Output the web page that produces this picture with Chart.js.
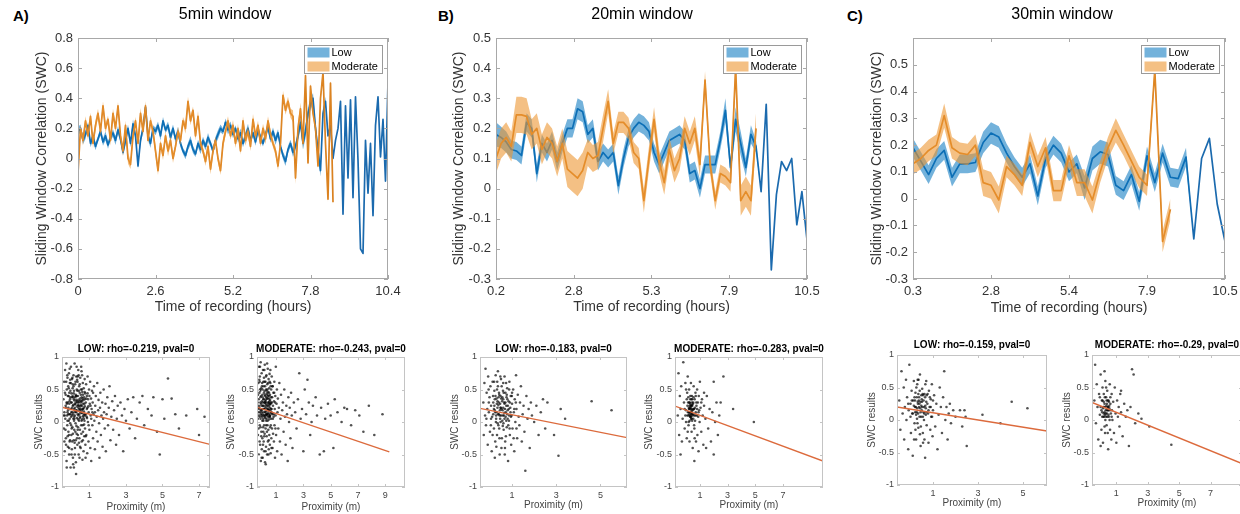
<!DOCTYPE html>
<html>
<head>
<meta charset="utf-8">
<title>Sliding window correlation</title>
<script src="https://cdn.jsdelivr.net/npm/chart.js@4.4.1/dist/chart.umd.min.js"></script>
<style>
  html,body{margin:0;padding:0;background:#fff;}
  body{position:relative;width:1240px;height:514px;overflow:hidden;}
  canvas{position:absolute;}
  .tag{position:absolute;top:8px;font:bold 15px/15px "Liberation Sans",Arial,sans-serif;color:#000;}
</style>
</head>
<body>
<div class="tag" style="left:13px">A)</div>
<div class="tag" style="left:438px">B)</div>
<div class="tag" style="left:847px">C)</div>
<canvas id="mainA" width="450" height="330" style="left:0;top:0"></canvas>
<canvas id="mainB" width="444" height="330" style="left:420px;top:0"></canvas>
<canvas id="mainC" width="444" height="330" style="left:840px;top:0"></canvas>
<canvas id="scALow" width="232" height="180" style="left:20px;top:338px"></canvas>
<canvas id="scAMod" width="232" height="180" style="left:215px;top:338px"></canvas>
<canvas id="scBLow" width="227" height="180" style="left:440px;top:338px"></canvas>
<canvas id="scBMod" width="228" height="180" style="left:635px;top:338px"></canvas>
<canvas id="scCLow" width="230" height="184" style="left:857px;top:334px"></canvas>
<canvas id="scCMod" width="230" height="184" style="left:1052px;top:334px"></canvas>
<script>
const FONT = '"Liberation Sans", Arial, Helvetica, sans-serif';
Chart.defaults.font.family = FONT;
Chart.defaults.animation = false;

const BLUE = '#1b6aae', BLUE_BAND = 'rgba(0,114,189,0.55)';
const ORANGE = '#d9801f', ORANGE_BAND = 'rgba(236,150,50,0.6)';
const FIT = '#dc6a3c';

// ---- sliding window time grids (hours) ----
const aStart = 0,   aStep = 10.4 / 124;
const bStart = 0.2, bStep = 10.3 / 61;
const cStart = 0.3, cStep = 10.2 / 40;

// ---- A) 5min window ----
const aLow = [.18,.2,.12,.16,.22,.1,.15,.08,.13,.18,
  .11,.15,.09,.14,.17,.12,.19,.13,.04,.12,
  .2,.1,.23,.15,-.05,.12,.2,.34,.15,.1,
  .2,.18,.22,.15,.25,.19,.22,.14,.2,.13,
  .18,.1,.05,.02,.08,.12,.06,.03,.1,.06,
  .12,.08,.14,.1,.05,.12,.16,.2,.18,.24,
  .19,.22,.16,.2,.13,.17,.1,.15,.2,.12,
  .17,.11,.19,.14,.1,.16,.21,.13,.18,.12,
  .17,.08,.02,-.02,.06,.1,.04,.08,.15,.24,
  .1,.18,.3,.36,.4,.2,.05,-.08,.3,.38,
  .15,.22,0,.12,.2,.38,-.37,.35,-.13,.39,
  -.26,.41,-.01,-.6,-.63,.12,-.23,.1,-.38,.22,
  .41,.01,.26,-.15,.51];
const aLowErr = [.03,.025,.025,.03,.02,.025,.03,.025,.02,.025,
  .025,.03,.025,.02,.025,.03,.025,.025,.02,.03,
  .025,.025,.03,.025,.02,.025,.03,.025,.025,.03,
  .02,.025,.025,.03,.025,.02,.025,.03,.025,.025,
  .03,.025,.02,.025,.025,.03,.025,.02,.025,.03,
  .025,.025,.03,.02,.025,.025,.03,.025,.02,.025,
  .03,.025,.025,.02,.025,.03,.025,.025,.03,.02,
  .025,.025,.03,.025,.02,.025,.03,.025,.025,.03,
  .025,.02,.025,.03,.025,.025,.03,.025,.04,.04,
  .04,.045,.04,.04,.035,.04,.045,.04,.035,.03,
  0,0,0,0,0,0,0,0,0,0,
  0,0,0,0,0,0,0,0,0,0,
  0,0,0,0,0];
const aMod = [-.1,.2,.12,.25,.15,.28,.1,.22,.3,.18,
  .35,.2,.26,.12,.3,.2,.35,.15,.05,.22,
  0,-.04,.15,.25,.1,.3,.18,.35,.12,.25,
  .18,.05,-.08,.1,.02,.15,.05,.12,0,.08,
  .18,.12,.25,.2,.38,.25,.32,.15,.28,.1,
  .05,-.02,.08,-.07,.05,.12,0,-.08,.1,.18,
  .25,.15,.22,.1,.2,.05,.25,.12,.18,.08,
  .26,.15,.22,.1,.2,.13,.25,.16,.1,.05,
  -.05,.1,.42,.32,.38,.3,.28,-.13,.2,.33,
  .1,.55,-.03,.48,.3,.2,-.05,.4,.57,.1,
  -.27,.5,-.29];
const aModErr = [.03,.025,.035,.03,.03,.025,.03,.035,.03,.03,
  .03,.03,.025,.035,.03,.03,.025,.03,.035,.03,
  .035,.03,.03,.025,.03,.035,.03,.03,.025,.03,
  .03,.035,.03,.025,.03,.03,.035,.03,.03,.025,
  .03,.03,.025,.035,.03,.03,.025,.03,.035,.03,
  .025,.03,.03,.035,.03,.025,.03,.03,.035,.03,
  .03,.025,.035,.03,.03,.025,.03,.035,.03,.03,
  .035,.03,.03,.025,.03,.035,.03,.03,.025,.03,
  .03,.03,.03,.03,.03,.03,.04,.04,.04,.04,
  .04,.02,.02,.02,.02,.02,.02,.02,.02,.02,
  .02,.02,.02];

// ---- B) 20min window ----
const bLow = [.18,.17,.155,.13,.125,.11,.22,.2,.05,.15,
  .12,.16,.09,.15,.2,.2,.265,.255,.18,.2,
  .09,.12,.1,.12,.01,.1,.17,.2,.22,.21,
  .19,.12,.08,.12,.16,.17,.18,.16,.05,.06,
  0,.08,.08,.08,.16,.26,.07,.23,.15,.07,
  .18,.14,-.01,.28,-.27,-.02,.09,.06,.1,-.12,-.01,-.17];
const bLowErr = [.04,.035,.035,.03,.03,.03,.03,.03,.03,.03,
  .03,.03,.03,.03,.03,.03,.035,.035,.03,.03,
  .03,.03,.03,.03,.03,.03,.03,.03,.03,.03,
  .03,.03,.03,.03,.03,.03,.03,.03,.03,.03,
  .03,.03,.03,.03,.03,.04,.03,.04,.04,.03,
  .03,.02,0,0,0,0,0,0,0,0,0,0];
const bMod = [.1,.15,.17,.14,.245,.245,.24,.18,.2,.13,
  .17,.15,.09,.15,.065,.05,.035,.06,.12,.1,
  .11,.2,.29,.15,.22,.22,.2,.12,.1,-.04,
  .1,.23,.09,.02,.13,.06,.1,.2,.15,.2,
  .08,.36,.08,-.04,.05,.04,.02,.4,-.04,-.01,
  -.04,.2];
const bModErr = [.05,.05,.05,.05,.06,.06,.06,.05,.05,.05,
  .05,.05,.05,.05,.06,.06,.06,.06,.045,.045,
  .045,.045,.04,.035,.035,.035,.035,.035,.035,.04,
  .04,.04,.04,.04,.04,.04,.04,.04,.04,.04,
  .04,.03,.03,.03,.03,.03,.03,.03,.05,.05,
  .05,.05];

// ---- C) 30min window ----
const cLow = [.19,.14,.09,.15,.18,.08,.13,.13,.135,.21,
  .245,.23,.17,.12,.08,.13,.01,.15,.2,.17,
  .1,.13,.04,.15,.175,.165,.05,.03,.09,-.01,
  .16,.06,.17,.08,.075,.155,-.15,.15,.225,-.02,
  -.16];
const cLowErr = [.035,.035,.035,.035,.035,.035,.035,.035,.035,.04,
  .04,.04,.035,.035,.035,.035,.035,.035,.035,.035,
  .035,.035,.045,.045,.045,.045,.035,.035,.035,.035,
  .035,.035,.035,.035,.035,.035,0,0,0,0,
  0];
const cMod = [.13,.15,.18,.2,.31,.19,.17,.165,.2,.06,
  .05,-.005,.12,.09,.05,.21,.12,.19,.03,.03,
  .16,.06,.06,-.005,.1,.19,.255,.2,.14,.08,
  .05,.48,-.16,-.04];
const cModErr = [.04,.04,.04,.04,.045,.04,.04,.04,.04,.05,
  .05,.05,.04,.04,.04,.04,.04,.04,.04,.04,
  .04,.05,.05,.05,.04,.04,.045,.04,.04,.04,
  .04,.02,.04,.04];

// ---- axis ticks ----
const aXTicks = [0, 2.6, 5.2, 7.8, 10.4],       aXLabels = ['0','2.6','5.2','7.8','10.4'];
const bXTicks = [0.2, 2.775, 5.35, 7.925, 10.5], bXLabels = ['0.2','2.8','5.3','7.9','10.5'];
const cXTicks = [0.3, 2.85, 5.4, 7.95, 10.5],    cXLabels = ['0.3','2.8','5.4','7.9','10.5'];
const aYTicks = [-0.8,-0.6,-0.4,-0.2,0,0.2,0.4,0.6,0.8];
const bYTicks = [-0.3,-0.2,-0.1,0,0.1,0.2,0.3,0.4,0.5];
const cYTicks = [-0.3,-0.2,-0.1,0,0.1,0.2,0.3,0.4,0.5];
const scYTicks = [-1,-0.5,0,0.5,1];

// ---- proximity scatter (proximity m, SWC) ----
const aLowPts = [[-.42,.35],[-.4,-.1],[-.38,.62],[-.37,.15],[-.35,-.45],[-.33,.8],[-.32,.05],[-.3,.42],[-.29,-.25],[-.28,.22],[-.26,.9],[-.25,-.6],[-.24,.5],[-.22,.1],[-.21,-.05],[-.2,.68],[-.19,.3],[-.18,-.38],[-.17,.18],[-.16,.55],[-.15,-.15],[-.14,.4],[-.13,.02],[-.12,.75],[-.11,-.5],[-.1,.28],[-.09,.12],[-.08,-.3],[-.07,.6],[-.06,.35],[-.05,-.02],[-.04,.48],[-.03,-.7],[-.02,.2],[-.01,.85],[0,.08],[.01,-.2],[.02,.44],[.03,.3],[.04,-.42],[.05,.66],[.06,.15],[.07,-.08],[.08,.52],[.09,.25],[.1,-.55],[.11,.38],[.12,.05],[.13,.72],[.14,-.28],[.15,.2],[.16,.48],[.17,-.12],[.18,.33],[.19,.9],[.2,.1],[.21,-.4],[.22,.58],[.23,.27],[.24,-.02],[.25,.42],[.26,-.62],[.27,.16],[.28,.7],[.29,.34],[.3,-.18],[.31,.5],[.32,.06],[.33,.24],[.34,-.35],[.35,.62],[.36,.12],[.37,.4],[.38,-.08],[.39,.8],[.4,.22],[.41,-.5],[.42,.3],[.43,.02],[.44,.55],[.45,-.25],[.46,.18],[.47,.45],[.48,-.12],[.49,.36],[.5,.68],[.51,.08],[.52,-.4],[.53,.26],[.54,.5],[.55,-.05],[.56,.14],[.57,.78],[.58,-.3],[.59,.32],[.6,.04],[.61,.46],[.62,-.58],[.63,.2],[.64,.6],[.65,-.15],[.66,.28],[.67,.1],[.68,-.45],[.69,.52],[.7,.16],[.71,.38],[.72,-.22],[.73,.02],[.74,.66],[.75,.24],[.76,-.1],[.77,.44],[.78,-.35],[.79,.12],[.8,.3],[.82,.58],[.83,-.2],[.85,.08],[.86,.4],[.88,-.48],[.89,.22],[.9,.7],[.92,0],[.93,.35],[.95,-.3],[.96,.15],[.98,.5],[1,-.12],[1.02,.28],[1.04,.62],[1.05,-.4],[1.07,.1],[1.09,.36],[1.1,-.6],[1.12,.2],[1.14,.48],[1.16,-.05],[1.18,.3],[1.2,-.25],[1.22,.12],[1.25,.55],[1.27,.02],[1.3,-.42],[1.32,.25],[1.35,.4],[1.38,-.15],[1.4,.08],[1.43,.6],[1.45,-.3],[1.48,.18],[1.5,.34],[1.53,-.02],[1.55,-.55],[1.58,.22],[1.6,.45],[1.63,-.2],[1.66,.1],[1.7,.3],[1.72,-.38],[1.75,.05],[1.78,.5],[1.8,.15],[1.84,-.1],[1.88,.28],[1.9,-.45],[1.94,.12],[1.98,.38],[2.02,-.05],[2.06,.22],[2.1,.55],[2.15,-.28],[2.2,.08],[2.25,.32],[2.3,-.12],[2.35,.18],[2.4,.4],[2.46,-.35],[2.5,.05],[2.55,.25],[2.62,-.2],[2.7,.3],[2.78,.1],[2.85,-.45],[2.92,.2],[3,.02],[3.1,.35],[3.2,-.1],[3.3,.15],[3.4,.38],[3.5,-.25],[3.6,.05],[3.75,.3],[3.9,.4],[4,-.05],[4.2,.2],[4.4,.1],[4.5,.38],[4.7,-.15],[4.85,-.5],[5,.35],[5.1,.05],[5.3,.67],[5.5,.36],[5.7,.12],[5.9,-.1],[6.3,.1],[6.9,.2],[7.3,.08],[7,-.2],
  [-.3,.25],[-.2,.15],[-.1,.45],[0,.3],[.05,.22],[.1,.12],[.15,.35],[.2,.28],[.25,.18],[.3,.4],[.35,.3],[.4,.1],[.45,.2],[.5,.15],[.55,.33],[.6,.25],[.65,.42],[.7,.05],[.75,.35],[-.25,.3],[-.15,.22],[-.05,.12],[.08,.4],[.18,.05],[.28,.15],[.38,.26],[.48,.06],[.58,.18],[-.35,.1],[-.12,-.2],[.03,-.1],[.13,.55],[.23,-.15],[.33,.65],[.43,-.32],[.53,.42],[.63,-.05],[.73,.28],[-.28,-.35],[-.18,.4],[-.08,.05],[.22,.38],[.32,-.25],[.42,.48],[.52,.2],[.62,.36],[.72,.12],[.06,-.3],[.16,.02],[.26,.3],[.36,-.12],[.46,.32],[.56,-.18],[.66,.08],[.86,.2],[.96,-.05],[1.06,.25],[1.16,.15],[-.05,.65],[.11,-.65],[.41,.72],[.27,-.8],[.02,-.5],
  [-.34,.45],[-.31,-.12],[-.27,.62],[-.23,.28],[-.19,-.22],[-.16,.12],[-.13,.52],[-.09,.32],[-.06,-.28],[-.02,.6],[.01,.15],[.04,.38],[.07,.68],[.1,-.18],[.12,.26],[.14,.44],[.17,.08],[.19,-.32],[.21,.22],[.24,.62],[.26,.4],[.29,-.06],[.31,.18],[.34,.48],[.37,-.2],[.39,.04],[.41,.34],[.44,.12],[.47,.58],[.49,-.38],[.51,.24],[.54,.3],[.57,.02],[.59,.5],[.61,.14],[.64,-.28],[.67,.34],[.69,.22],[.71,-.04],[.74,.46],[.77,.1],[.8,-.22],[.83,.36],[.87,.06],[.9,.44],[.94,.24],[-.37,-.3],[-.21,.72],[-.11,-.4],[0,-.05],[.09,.58],[.2,-.5],[.36,.7],[.46,-.55],[.6,.72],[.79,-.55],[-.41,.1],[-.08,.82],[.15,-.7],[.55,.85],[.3,.85],[-.24,-.7],[1,.4],[1.1,.05],[1.2,.45],[1.3,.15],[-.05,.38],[.18,.15],[.43,.25],[.66,.2],[.05,.1],[.32,.32],[.58,.38],[-.2,.02],[.25,-.28]];
const aModPts = [[-.35,.3],[-.33,-.2],[-.3,.6],[-.28,.1],[-.27,-.5],[-.25,.85],[-.24,.22],[-.22,.45],[-.2,-.05],[-.19,.7],[-.18,.15],[-.17,-.35],[-.15,.38],[-.14,.05],[-.13,.92],[-.12,-.6],[-.1,.28],[-.09,.52],[-.08,-.15],[-.07,.18],[-.06,.75],[-.05,-.42],[-.04,.32],[-.03,.08],[-.02,.6],[-.01,-.25],[0,.42],[.01,.12],[.02,-.55],[.03,.25],[.04,.8],[.05,-.08],[.06,.35],[.07,.02],[.08,.55],[.09,-.3],[.1,.2],[.11,.68],[.12,-.45],[.13,.3],[.14,.1],[.15,.48],[.16,-.18],[.17,.88],[.18,.24],[.19,-.62],[.2,.4],[.21,.06],[.22,.62],[.23,-.1],[.24,.34],[.25,.16],[.26,-.38],[.27,.5],[.28,.02],[.29,.72],[.3,.26],[.31,-.22],[.32,.44],[.33,.1],[.34,-.5],[.35,.58],[.36,.2],[.37,-.05],[.38,.36],[.39,.82],[.4,-.3],[.41,.14],[.42,.46],[.43,-.12],[.44,.28],[.45,.66],[.46,-.42],[.47,.18],[.48,.04],[.49,.52],[.5,-.2],[.51,.32],[.52,.74],[.53,.1],[.54,-.35],[.55,.42],[.56,.22],[.57,-.08],[.58,.6],[.59,.14],[.6,-.48],[.62,.3],[.63,.05],[.64,.5],[.65,-.25],[.67,.2],[.68,.7],[.7,-.1],[.71,.38],[.72,.12],[.74,-.4],[.75,.55],[.77,.25],[.78,-.18],[.8,.45],[.82,.08],[.84,-.3],[.85,.32],[.87,.62],[.88,-.05],[.9,.2],[.92,-.55],[.94,.4],[.96,.1],[.98,.85],[1,-.2],[1.03,.28],[1.06,.5],[1.08,-.45],[1.1,.15],[1.13,.36],[1.16,-.1],[1.2,.22],[1.24,.6],[1.28,-.3],[1.32,.05],[1.36,.42],[1.4,-.5],[1.45,.18],[1.5,.3],[1.55,-.15],[1.6,.5],[1.65,.08],[1.7,-.35],[1.75,.25],[1.8,.12],[1.85,-.6],[1.9,.38],[1.95,0],[2,.22],[2.05,-.25],[2.1,.45],[2.15,.1],[2.2,-.4],[2.3,.3],[2.4,.15],[2.5,-.1],[2.6,.35],[2.7,.75],[2.8,.05],[2.9,.2],[3,-.45],[3.1,.5],[3.2,.12],[3.3,.65],[3.4,.3],[3.5,-.2],[3.6,0],[3.7,.25],[3.9,.38],[4,.1],[4.2,-.5],[4.3,.22],[4.5,-.45],[4.6,.05],[4.8,.28],[5,.1],[5.2,-.4],[5.3,.35],[5.5,.15],[5.8,0],[6,.22],[6.2,.2],[6.5,-.05],[6.8,.18],[7.1,.1],[7.4,-.15],[7.8,.25],[8.2,-.2],[8.8,.12],
  [-.25,.2],[-.15,.3],[-.05,.15],[.05,.25],[.15,.2],[.25,.3],[.35,.12],[.45,.24],[.55,.08],[-.2,.08],[-.1,.4],[0,.2],[.1,.35],[.2,.15],[.3,.05],[.4,.3],[.5,.18],[.6,.28],[-.3,.15],[-.12,.12],[.02,.38],[.12,-.05],[.22,.28],[.32,.36],[.42,.08],[.52,.26],[.62,.16],[.08,.1],[.18,.42],[.28,.22],[.38,.18],[.48,.36],[-.08,.25],[-.18,.5],[.06,-.15],[.16,.62],[.26,.12],[.36,.42],[.46,.12],[.56,.34],
  [-.32,.42],[-.29,-.1],[-.26,.25],[-.23,.65],[-.21,-.3],[-.16,.48],[-.11,.18],[-.09,-.22],[-.04,.55],[-.01,.02],[.02,.3],[.04,-.35],[.07,.62],[.09,.15],[.11,.45],[.13,-.22],[.16,.08],[.19,.55],[.21,.32],[.23,-.45],[.26,.7],[.28,.38],[.31,.12],[.33,-.15],[.36,.5],[.38,.02],[.41,.6],[.43,.2],[.46,-.28],[.48,.45],[.51,.08],[.53,.62],[.57,.28],[.61,-.05],[.64,.38],[.69,.14],[-.34,.05],[-.18,.85],[-.06,-.55],[.14,.8],[.24,-.65],[.34,.9],[.44,-.5],[.58,.8],[.66,-.4],[-.27,.35],[-.14,-.08],[0,.5],[.12,.2],[.27,-.05],[.4,.4],[.55,.1],[.7,.3],[.76,.05],[.86,.45],[.95,-.1],[-.2,.62],[.06,.05],[.18,.3],[.3,.48],[.47,.3],[.6,.55],[-.07,.1],[.22,.1],[.36,.25],[.5,.4],[.63,.2],[.73,.55],[.83,.12],[.93,.3]];
const bLowPts = [[-.3,.3],[-.28,-.2],[-.25,.6],[-.22,.1],[-.2,.82],[-.18,-.05],[-.15,.45],[-.12,.2],[-.1,-.35],[-.08,.7],[-.05,.15],[-.02,.38],[0,-.15],[.02,.55],[.05,.25],[.08,-.45],[.1,.08],[.12,.62],[.15,.3],[.18,-.1],[.2,.48],[.22,.18],[.24,-.3],[.26,.72],[.28,.05],[.3,.36],[.32,-.2],[.34,.22],[.36,.55],[.38,-.05],[.4,.12],[.42,.42],[.44,-.5],[.46,.28],[.48,0],[.5,.66],[.52,.2],[.54,-.25],[.56,.38],[.58,.1],[.6,.6],[.62,-.12],[.64,.3],[.66,.05],[.68,-.4],[.7,.45],[.72,.15],[.74,.25],[.76,-.08],[.78,.52],[.8,.18],[.82,-.6],[.84,.32],[.86,.02],[.88,.62],[.9,-.2],[.92,.22],[.94,.4],[.96,-.35],[.98,.1],[1,.28],[1.02,-.1],[1.05,.5],[1.08,.15],[1.1,-.45],[1.12,.35],[1.15,0],[1.18,.72],[1.2,.2],[1.23,-.25],[1.26,.42],[1.3,.08],[1.33,-.05],[1.36,.3],[1.4,.55],[1.44,-.3],[1.48,.12],[1.52,.25],[1.56,-.15],[1.6,-.75],[1.65,.4],[1.7,.05],[1.75,.2],[1.8,-.4],[1.85,.3],[1.9,.1],[2,0],[2.1,.25],[2.2,-.2],[2.3,.15],[2.4,.35],[2.6,.3],[2.9,-.2],[3.1,-.52],[3.2,.2],[3.4,.05],[4.6,.32],[5.5,.18],[2.5,-.1],
  [.2,.25],[.3,.15],[.4,.3],[.5,.1],[.6,.22],[.7,.3],[.8,.05],[.25,.4],[.35,-.02],[.45,.18],[.55,.32],[.65,.14],[.75,.38],[.85,.2],[.28,.1],[.38,.26],[.48,.4],[.58,-.06],[.68,.2],[.78,.12],[.15,.12],[.05,.05],[-.05,.3],[.12,-.2],[.32,.5],[.52,-.4],[.62,.45],[.72,-.22],[.42,-.1],[.22,-.55],[.66,.7],[.36,.78],[.18,.2],[.6,.35],[.48,.22],[.9,.3],[.95,.08],[1,.45],[1.1,.2],[1.2,-.1],[.34,.32],[.56,.02],[.44,.1],[.74,.02],
  [.22,.35],[.27,0],[.31,.28],[.37,.12],[.41,.45],[.46,.05],[.51,.36],[.57,.18],[.61,-.02],[.66,.28],[.71,.08],[.76,.42],[.81,.25],[.87,.1],[.24,.15],[.33,.62],[.43,-.25],[.53,.55],[.63,.1],[.73,.6],[.83,-.05],[.93,.15],[.29,-.38],[.39,.38],[.49,.22],[.59,.48],[.69,-.3],[.79,.35],[.89,-.1],[.99,.4],[.14,.4],[.04,-.05],[-.06,.5],[-.16,.05],[.19,.62],[.47,.7],[.67,-.5],[.87,.5],[1.07,-.25],[1.17,.3]];
const bModPts = [[-.6,.1],[-.55,.75],[-.5,-.2],[-.45,.4],[-.4,.2],[-.35,.55],[-.3,-.3],[-.25,.05],[-.2,.92],[-.15,.3],[-.1,-.1],[-.05,.6],[0,.18],[.05,-.25],[.08,.45],[.1,.1],[.12,.7],[.15,.3],[.18,-.05],[.2,.22],[.22,.5],[.25,-.3],[.28,.15],[.3,.35],[.32,.08],[.35,.6],[.38,.25],[.4,-.15],[.42,.4],[.45,.12],[.48,-.4],[.5,.28],[.52,.05],[.55,.55],[.58,.2],[.6,-.1],[.62,.35],[.65,.02],[.68,.45],[.7,.15],[.72,-.3],[.75,.25],[.78,.1],[.8,.5],[.82,-.2],[.85,.3],[.88,.08],[.9,-.45],[.92,.4],[.95,.18],[.98,0],[1,.62],[1.05,.22],[1.1,-.15],[1.15,.35],[1.2,.1],[1.25,-.35],[1.3,.25],[1.4,.05],[1.5,.4],[1.6,-.1],[1.7,.2],[1.8,-.3],[1.9,.15],[2,.62],[2.1,0],[2.2,.3],[2.3,-.2],[2.4,.1],[2.5,.3],[2.7,.7],[3.4,.2],[4.9,0],[2,-.5],[1.45,-.4],[.6,-.6],[-.4,-.5],[1.3,.45],
  [.2,.15],[.25,.2],[.3,.1],[.35,.22],[.4,.18],[.45,.25],[.5,.12],[.55,.2],[.3,.28],[.4,.05],[.22,.3],[.33,.15],[.44,.35],[.38,.12],[.28,.22],[.48,.18],[.18,.1],[.52,.3],[.42,.26],[.36,.08],[.26,.02],[.16,.38],[.6,.1],[.1,.25],[0,0],[-.1,.2],[.7,.4],[.8,.2],
  [.24,.12],[.27,.3],[.32,.2],[.37,.05],[.41,.15],[.43,.3],[.47,.1],[.34,.25],[.29,.08],[.39,.35],[.21,.2],[.46,.2],[.31,.4],[.36,.15],[.26,.25],[.44,.02],[.19,0],[.14,.15],[.54,.38],[.58,-.05],[.64,.22],[.68,.1],[.74,.3],[.05,.35],[0,.5],[-.05,.1],[.12,-.15],[.62,-.25],[.9,.15],[1.1,.3]];
const cLowPts = [[-.5,.3],[-.45,-.15],[-.4,.75],[-.35,.1],[-.3,.5],[-.28,-.3],[-.25,.2],[-.2,.62],[-.18,0],[-.15,.35],[-.1,-.45],[-.08,.15],[-.05,.85],[0,.25],[.02,-.2],[.05,.45],[.08,.1],[.1,-.55],[.12,.3],[.15,.6],[.18,-.05],[.2,.2],[.22,.42],[.25,-.3],[.28,.12],[.3,.55],[.32,.28],[.35,-.12],[.38,.35],[.4,.05],[.42,.7],[.45,-.4],[.48,.22],[.5,.15],[.52,.48],[.55,-.2],[.58,.3],[.6,0],[.62,.4],[.65,-.58],[.68,.18],[.7,.6],[.72,-.08],[.75,.25],[.78,.1],[.8,-.35],[.82,.45],[.85,.2],[.88,-.15],[.9,.32],[.92,.05],[.95,.55],[.98,-.25],[1,.15],[1.05,.38],[1.1,-.1],[1.15,.25],[1.2,-.45],[1.25,.08],[1.3,.5],[1.35,.2],[1.4,-.2],[1.45,.35],[1.5,.75],[1.55,0],[1.6,.2],[1.65,-.3],[1.7,.1],[1.75,.25],[1.8,-.05],[1.9,.15],[2,.05],[2.2,.15],[2.4,.15],[2.3,-.1],[2.5,-.4],[3.2,.08],[4,-.05],[4.5,.28],[5.2,.18],[2.45,.05],
  [.2,.3],[.3,.18],[.4,.25],[.5,.32],[.6,.2],[.7,.28],[.25,.08],[.35,.4],[.45,.12],[.55,.05],[.65,.35],[.15,.22],[.28,.35],[.38,.2],[.48,.38],[.58,.12],[.68,.08],[.1,.1],[0,.05],[-.1,.25],[.8,.15],[.9,.2],[1,.3],[.22,-.15],[.42,-.22],[.62,-.3],[.32,.62],[.52,.2],[.72,.38],[.44,.28],[.34,.1],[.54,.4],
  [.18,.35],[.24,.2],[.29,.02],[.33,.25],[.37,.3],[.43,.18],[.47,.05],[.51,.28],[.56,.38],[.61,.1],[.66,.22],[.71,.12],[.76,.4],[.26,.5],[.36,.62],[.46,-.1],[.56,-.35],[.66,.55],[.86,.35],[.96,.05],[.06,.3],[.16,-.3],[.41,.45],[.31,-.05],[.21,.12]];
const cModPts = [[-.4,.3],[-.35,.85],[-.3,-.05],[-.25,.55],[-.2,.2],[-.15,-.3],[-.1,.4],[-.05,.08],[0,.7],[.05,-.15],[.08,.3],[.1,.12],[.12,.5],[.15,-.35],[.18,.2],[.2,.4],[.22,.05],[.25,.25],[.28,-.2],[.3,.6],[.32,.15],[.35,.35],[.38,-.08],[.4,.1],[.42,.45],[.45,.2],[.48,-.45],[.5,.3],[.52,.05],[.55,.18],[.58,.55],[.6,-.15],[.62,.25],[.65,.1],[.68,-.3],[.7,.4],[.72,.15],[.75,0],[.8,.28],[.85,-.2],[.9,.5],[.95,.1],[1,-.35],[1.05,.3],[1.1,.05],[1.15,.2],[1.2,-.1],[1.25,.4],[1.3,.12],[1.4,-.25],[1.5,.25],[1.6,.05],[1.7,.15],[1.8,-.4],[1.9,.2],[2,.78],[2.1,.7],[2.2,-.05],[2.4,.1],[2.6,.02],[3.1,-.1],[4.5,-.38],[1.3,.45],[0,-.4],[.25,.75],
  [.2,.1],[.3,.2],[.4,.15],[.5,.08],[.35,.05],[.45,.3],[.25,.12],[.55,.22],[.15,.18],[.3,0],[.4,.25],[.6,.15],[.1,.05],[.2,.28],[.5,.15],[0,.2],
  [.22,.2],[.27,.35],[.33,.1],[.37,.22],[.43,.05],[.47,.15],[.53,.28],[.57,0],[.28,.08],[.38,.3],[.48,.2],[.18,.05],[.12,.3],[.62,.35],[.7,.05],[.05,.15],[-.05,.35],[.35,.5],[.45,-.2],[.25,-.1]];

// regression line ends
const aLowFit = [[-0.5,0.227],[7.6,-0.345]];
const aModFit = [[-0.4,0.23],[9.3,-0.46]];
const bLowFit = [[-0.45,0.21],[6.2,-0.24]];
const bModFit = [[-0.8,0.245],[9.9,-0.6]];
const cLowFit = [[-0.6,0.2],[6.07,-0.17]];
const cModFit = [[-0.55,0.27],[9.0,-0.67]];

// MATLAB-like box with inward tick marks
const axesBox = {
  id: 'axesBox',
  afterDatasetsDraw(chart, args, opts) {
    const {ctx, chartArea: a, scales} = chart;
    ctx.save();
    ctx.strokeStyle = opts.color; ctx.lineWidth = 1;
    ctx.strokeRect(Math.round(a.left)+0.5, Math.round(a.top)+0.5, Math.round(a.width)-1, Math.round(a.height)-1);
    ctx.beginPath();
    scales.x.ticks.forEach(t => {
      const p = Math.round(scales.x.getPixelForValue(t.value)) + 0.5;
      ctx.moveTo(p, a.bottom); ctx.lineTo(p, a.bottom - opts.len);
      ctx.moveTo(p, a.top); ctx.lineTo(p, a.top + opts.len);
    });
    scales.y.ticks.forEach(t => {
      const p = Math.round(scales.y.getPixelForValue(t.value)) + 0.5;
      ctx.moveTo(a.left, p); ctx.lineTo(a.left + opts.len, p);
      ctx.moveTo(a.right, p); ctx.lineTo(a.right - opts.len, p);
    });
    ctx.stroke();
    ctx.restore();
  }
};

// legend drawn inside the top-right corner of the plot area
const insetLegend = {
  id: 'insetLegend',
  afterDraw(chart) {
    const {ctx, chartArea: a} = chart;
    const items = chart.data.datasets.filter(d => d.swatch);
    ctx.save();
    ctx.font = '11px ' + FONT;
    const tw = Math.max(...items.map(d => ctx.measureText(d.label).width));
    const w = Math.round(27 + tw + 5), h = items.length * 14;
    const x0 = Math.round(a.right - 6 - w) + 0.5, y0 = Math.round(a.top + 7) + 0.5;
    ctx.fillStyle = '#fff'; ctx.fillRect(x0, y0, w, h);
    ctx.strokeStyle = '#9a9a9a'; ctx.lineWidth = 1; ctx.strokeRect(x0, y0, w, h);
    ctx.textBaseline = 'middle';
    items.forEach((d, i) => {
      const cy = y0 + 7 + i * 14;
      ctx.fillStyle = d.swatch; ctx.fillRect(x0 + 3, cy - 5, 22, 10);
      ctx.fillStyle = '#000'; ctx.fillText(d.label, x0 + 27, cy);
    });
    ctx.restore();
  }
};

// empty right-hand axis: reserves space so the title centres over the whole canvas
const spacer = w => ({position: 'right', display: true, afterFit: s => { s.width = w; },
  ticks: {display: false}, grid: {display: false, drawTicks: false}, border: {display: false}});

function bandSets(label, start, step, vals, errs, line, band, order) {
  const at = f => vals.map((v, i) => ({x: start + i * step, y: f(v, errs[i])}));
  const edge = {pointRadius: 0, borderWidth: 0, borderColor: 'transparent', order};
  return [
    Object.assign({label: label + ' upper', data: at((v, e) => v + e), fill: '+1', backgroundColor: band}, edge),
    Object.assign({label: label + ' lower', data: at((v, e) => v - e), fill: false}, edge),
    {label, swatch: band, data: at(v => v), borderColor: line, borderWidth: 1.7, pointRadius: 0,
     fill: false, tension: 0, borderJoinStyle: 'round', order}
  ];
}

function mainPanel(id, p) {
  new Chart(document.getElementById(id), {
    type: 'line',
    data: {datasets: [
      ...bandSets('Low', p.start, p.step, p.low, p.lowErr, BLUE, BLUE_BAND, 2),
      ...bandSets('Moderate', p.start, p.step, p.mod, p.modErr, ORANGE, ORANGE_BAND, 1)
    ]},
    plugins: [axesBox, insetLegend],
    options: {
      responsive: false, events: [],
      layout: {padding: 0},
      plugins: {
        legend: {display: false}, tooltip: {enabled: false},
        title: {display: true, text: p.title, color: '#000', font: {size: 16, weight: 'normal'},
                padding: {top: 5.4, bottom: 13.4}},
        axesBox: {color: '#a8a8a8', len: 4}
      },
      scales: {
        x: {type: 'linear', min: p.xTicks[0], max: p.xTicks[p.xTicks.length - 1],
            afterBuildTicks: s => { s.ticks = p.xTicks.map(v => ({value: v})); },
            afterFit: s => { s.height = 51; },
            grid: {display: false, drawTicks: false}, border: {display: false},
            ticks: {autoSkip: false, maxRotation: 0, padding: 5, color: '#333', font: {size: 13},
                    callback: (v, i) => p.xLabels[i]},
            title: {display: true, text: 'Time of recording (hours)', color: '#333', font: {size: 14},
                    padding: {top: 0, bottom: p.xTitlePad}}},
        y: {min: p.yMin, max: p.yMax,
            afterBuildTicks: s => { s.ticks = p.yTicks.map(v => ({value: v})); },
            afterFit: s => { s.width = p.yWidth; },
            grid: {display: false, drawTicks: false}, border: {display: false},
            ticks: {autoSkip: false, padding: 5, color: '#333', font: {size: 13},
                    callback: (v, i) => String(p.yTicks[i])},
            title: {display: true, text: 'Sliding Window Correlation (SWC)', color: '#333', font: {size: 14},
                    padding: {top: p.yTitlePad, bottom: 0}}},
        gap: spacer(p.padRight)
      }
    }
  });
}

function scatterPanel(id, s) {
  new Chart(document.getElementById(id), {
    type: 'scatter',
    data: {datasets: [
      {data: s.fit.map(([x, y]) => ({x, y})), showLine: true, borderColor: FIT, borderWidth: 1.4,
       pointRadius: 0, order: 1},
      {data: s.pts.map(([x, y]) => ({x, y})), pointRadius: 1.3, backgroundColor: 'rgba(0,0,0,0.68)',
       borderWidth: 0, order: 2}
    ]},
    plugins: [axesBox],
    options: {
      responsive: false, events: [],
      layout: {padding: 0},
      plugins: {
        legend: {display: false}, tooltip: {enabled: false},
        title: {display: true, text: s.title, color: '#000', font: {size: 10, weight: 'bold'},
                padding: {top: 5, bottom: s.titleBottom}},
        axesBox: {color: '#c4c4c4', len: 3}
      },
      scales: {
        x: {type: 'linear', min: s.xMin, max: s.xMax,
            afterBuildTicks: sc => { sc.ticks = s.xTicks.map(v => ({value: v})); },
            afterFit: sc => { sc.height = s.xHeight; },
            grid: {display: false, drawTicks: false}, border: {display: false},
            ticks: {autoSkip: false, maxRotation: 0, padding: 3, color: '#444', font: {size: 9},
                    callback: (v, i) => String(s.xTicks[i])},
            title: {display: true, text: 'Proximity (m)', color: '#444', font: {size: 10},
                    padding: {top: 0, bottom: s.xTitlePad}}},
        y: {min: -1, max: 1,
            afterBuildTicks: sc => { sc.ticks = scYTicks.map(v => ({value: v})); },
            afterFit: sc => { sc.width = s.yWidth; },
            grid: {display: false, drawTicks: false}, border: {display: false},
            ticks: {autoSkip: false, padding: 3, color: '#444', font: {size: 9},
                    callback: (v, i) => String(scYTicks[i])},
            title: {display: true, text: 'SWC results', color: '#444', font: {size: 10},
                    padding: {top: s.yTitlePad, bottom: 0}}},
        gap: spacer(s.padRight)
      }
    }
  });
}

mainPanel('mainA', {title: '5min window', start: aStart, step: aStep, low: aLow, lowErr: aLowErr, mod: aMod, modErr: aModErr,
  xTicks: aXTicks, xLabels: aXLabels, yTicks: aYTicks, yMin: -0.8, yMax: 0.8,
  yWidth: 78, padRight: 62, yTitlePad: 33.6, xTitlePad: 14.6});
mainPanel('mainB', {title: '20min window', start: bStart, step: bStep, low: bLow, lowErr: bLowErr, mod: bMod, modErr: bModErr,
  xTicks: bXTicks, xLabels: bXLabels, yTicks: bYTicks, yMin: -0.3, yMax: 0.5,
  yWidth: 76, padRight: 57, yTitlePad: 30.6, xTitlePad: 14.6});
mainPanel('mainC', {title: '30min window', start: cStart, step: cStep, low: cLow, lowErr: cLowErr, mod: cMod, modErr: cModErr,
  xTicks: cXTicks, xLabels: cXLabels, yTicks: cYTicks, yMin: -0.3, yMax: 0.6,
  yWidth: 73, padRight: 59, yTitlePad: 28.6, xTitlePad: 13.6});

scatterPanel('scALow', {title: 'LOW: rho=-0.219, pval=0', pts: aLowPts, fit: aLowFit, xMin: -0.5, xMax: 7.6, xTicks: [1,3,5,7],
  yWidth: 42, padRight: 42, yTitlePad: 13, xHeight: 31, xTitlePad: 5, titleBottom: 2});
scatterPanel('scAMod', {title: 'MODERATE: rho=-0.243, pval=0', pts: aModPts, fit: aModFit, xMin: -0.4, xMax: 10.45, xTicks: [1,3,5,7,9],
  yWidth: 42, padRight: 42, yTitlePad: 10.7, xHeight: 31, xTitlePad: 5, titleBottom: 2});
scatterPanel('scBLow', {title: 'LOW: rho=-0.183, pval=0', pts: bLowPts, fit: bLowFit, xMin: -0.45, xMax: 6.2, xTicks: [1,3,5],
  yWidth: 40, padRight: 40, yTitlePad: 9.4, xHeight: 31, xTitlePad: 7, titleBottom: 2});
scatterPanel('scBMod', {title: 'MODERATE: rho=-0.283, pval=0', pts: bModPts, fit: bModFit, xMin: -0.8, xMax: 9.9, xTicks: [1,3,5,7],
  yWidth: 40, padRight: 40, yTitlePad: 8.7, xHeight: 31, xTitlePad: 7, titleBottom: 2});
scatterPanel('scCLow', {title: 'LOW: rho=-0.159, pval=0', pts: cLowPts, fit: cLowFit, xMin: -0.6, xMax: 6.07, xTicks: [1,3,5],
  yWidth: 40, padRight: 40, yTitlePad: 9.2, xHeight: 33, xTitlePad: 8.7, titleBottom: 4});
scatterPanel('scCMod', {title: 'MODERATE: rho=-0.29, pval=0', pts: cModPts, fit: cModFit, xMin: -0.55, xMax: 9.0, xTicks: [1,3,5,7],
  yWidth: 40, padRight: 40, yTitlePad: 9, xHeight: 33, xTitlePad: 8.7, titleBottom: 4});
</script>
</body>
</html>
